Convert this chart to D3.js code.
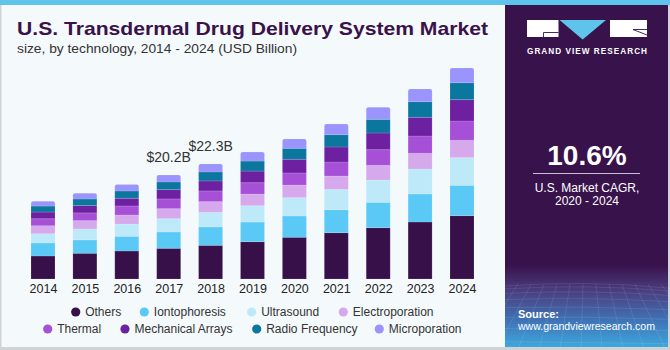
<!DOCTYPE html>
<html><head><meta charset="utf-8">
<script src="https://cdn.jsdelivr.net/npm/d3@7"></script>
<style>body{margin:0;padding:0;background:#fff}svg{display:block}</style>
</head><body>
<svg id="c" width="670" height="350"></svg>
<script>
const years = ["2014","2015","2016","2017","2018","2019","2020","2021","2022","2023","2024"];
const seriesNames = ["Others","Iontophoresis","Ultrasound","Electroporation","Thermal","Mechanical Arrays","Radio Frequency","Microporation"];
const others          = [4.46,4.99,5.43,5.95,6.53,7.24,8.08,8.99,9.96,11.06,12.29];
const iontophoresis   = [2.52,2.59,2.85,3.17,3.56,3.81,4.14,4.46,4.91,5.43,5.88];
const ultrasound      = [1.80,2.13,2.39,2.59,2.85,3.17,3.56,3.94,4.33,4.85,5.37];
const electroporation = [1.55,1.62,1.75,1.94,2.07,2.26,2.46,2.59,2.85,3.04,3.36];
const thermal         = [1.36,1.49,1.75,1.88,2.07,2.20,2.33,2.72,3.04,3.36,3.75];
const mechanical      = [1.30,1.42,1.49,1.81,1.94,2.26,2.65,2.91,3.23,3.62,4.14];
const radioFrequency  = [1.16,1.29,1.42,1.49,1.75,1.94,2.13,2.39,2.65,3.04,3.30];
const microporation   = [0.91,1.10,1.23,1.36,1.55,1.75,1.81,2.07,2.33,2.46,2.85];
const barLabels = [{year:"2017", text:"$20.2B"},{year:"2018", text:"$22.3B"}];
const colors = ["#37104a","#5bc9f6","#bee9f9","#d5a9ec","#a650d7","#6d21a0","#0b779e","#9b94fc"];

const seriesValues = [others,iontophoresis,ultrasound,electroporation,thermal,mechanical,radioFrequency,microporation];
const table = years.map((y,i)=>{const o={year:y}; seriesNames.forEach((n,k)=>o[n]=seriesValues[k][i]); return o;});

const svg = d3.select("#c");
const FONT = "'Liberation Sans', Arial, sans-serif";

// backgrounds
svg.append("rect").attr("x",0).attr("y",0).attr("width",670).attr("height",350).attr("fill","#f4f9fc");
svg.append("rect").attr("x",0).attr("y",0).attr("width",670).attr("height",5).attr("fill","#5ec4ec");
svg.append("rect").attr("x",0).attr("y",5).attr("width",1.5).attr("height",345).attr("fill","#cfd3d6");
svg.append("rect").attr("x",0).attr("y",347).attr("width",670).attr("height",3).attr("fill","#cfd3d6");
svg.append("rect").attr("x",668).attr("y",5).attr("width",2).attr("height",345).attr("fill","#cfd3d6");

// right panel
const defs = svg.append("defs");
const g1 = defs.append("linearGradient").attr("id","pg").attr("x1",0).attr("y1",0).attr("x2",0).attr("y2",1);
g1.append("stop").attr("offset","0").attr("stop-color","#38124b");
g1.append("stop").attr("offset","0.76").attr("stop-color","#38124b");
g1.append("stop").attr("offset","0.83").attr("stop-color","#4a3a7c");
g1.append("stop").attr("offset","0.92").attr("stop-color","#3f72b4");
g1.append("stop").attr("offset","1").attr("stop-color","#3fa6dd");
svg.append("rect").attr("x",505).attr("y",5).attr("width",163).attr("height",342).attr("fill","url(#pg)");
// faint grid in panel bottom
const grid = svg.append("g").attr("stroke","#ffffff").attr("stroke-opacity",0.13).attr("stroke-width",0.7).attr("fill","none");
for(let i=0;i<9;i++){const y=286+i*i*0.85+i*2; grid.append("path").attr("d",`M505,${y} Q586,${y-6+i} 668,${y+2}`);}
for(let i=0;i<14;i++){const x=505+i*13; grid.append("path").attr("d",`M${x},284 L${x+(x-586)*0.6},347`);}

// logo
const lg = svg.append("g");
lg.append("rect").attr("x",527).attr("y",20).attr("width",31.5).attr("height",17).attr("fill","#fff");
lg.append("path").attr("d","M543.5,37 L543.5,32.5 L558.5,32.5").attr("stroke","#38124b").attr("stroke-width",0.9).attr("fill","none");
lg.append("path").attr("d","M559.5,20 L606,20 L582.7,39.5 Z").attr("fill","#5ec4ec");
lg.append("rect").attr("x",610).attr("y",20).attr("width",37).attr("height",17).attr("fill","#fff");
lg.append("path").attr("d","M633,29.5 L647,35").attr("stroke","#38124b").attr("stroke-width",0.9);
lg.append("path").attr("d","M633,29.5 L647,29.5").attr("stroke","#38124b").attr("stroke-width",0.9);
lg.append("text").attr("x",587).attr("y",54).attr("text-anchor","middle").attr("font-family",FONT).attr("font-weight","bold")
  .attr("font-size",8.2).attr("fill","#fff").attr("textLength",120).attr("lengthAdjust","spacing").text("GRAND VIEW RESEARCH");

// CAGR
svg.append("text").attr("x",587).attr("y",165).attr("text-anchor","middle").attr("font-family",FONT).attr("font-weight","bold")
  .attr("font-size",28).attr("fill","#fff").text("10.6%");
svg.append("line").attr("x1",533).attr("x2",640).attr("y1",173.5).attr("y2",173.5).attr("stroke","#c9bfd3").attr("stroke-width",1);
svg.append("text").attr("x",587).attr("y",191.5).attr("text-anchor","middle").attr("font-family",FONT)
  .attr("font-size",12).attr("fill","#fff").text("U.S. Market CAGR,");
svg.append("text").attr("x",587).attr("y",204.5).attr("text-anchor","middle").attr("font-family",FONT)
  .attr("font-size",12).attr("fill","#fff").text("2020 - 2024");
svg.append("text").attr("x",518).attr("y",318).attr("font-family",FONT).attr("font-weight","bold")
  .attr("font-size",11).attr("fill","#fff").text("Source:");
svg.append("text").attr("x",518).attr("y",329.5).attr("font-family",FONT)
  .attr("font-size",11).attr("fill","#fff").attr("textLength",137).attr("lengthAdjust","spacingAndGlyphs").text("www.grandviewresearch.com");

// title
svg.append("text").attr("x",17).attr("y",35).attr("font-family",FONT).attr("font-weight","bold")
  .attr("font-size",18.5).attr("fill","#3a1249").attr("textLength",471).attr("lengthAdjust","spacingAndGlyphs")
  .text("U.S. Transdermal Drug Delivery System Market");
svg.append("text").attr("x",17).attr("y",53).attr("font-family",FONT)
  .attr("font-size",13).attr("fill","#333").attr("textLength",280).attr("lengthAdjust","spacingAndGlyphs")
  .text("size, by technology, 2014 - 2024 (USD Billion)");

// scales
const x = d3.scalePoint().domain(years).range([43,462]);
const y = d3.scaleLinear().domain([0,45]).range([279,279-45*5.155]);
const bw = 24;
const stack = d3.stack().keys(seriesNames)(table);

const bars = svg.append("g");
stack.forEach((s,k)=>{
  bars.append("g").attr("fill",colors[k]).selectAll("path").data(s).join("path")
    .attr("d",d=>{
      const x0=x(d.data.year)-bw/2, x1=x0+bw, yt=y(d[1]), yb=y(d[0]);
      if(k===seriesNames.length-1){
        const r=2;
        return `M${x0},${yb} L${x0},${yt+r} Q${x0},${yt} ${x0+r},${yt} L${x1-r},${yt} Q${x1},${yt} ${x1},${yt+r} L${x1},${yb} Z`;
      }
      return `M${x0},${yb} L${x0},${yt} L${x1},${yt} L${x1},${yb} Z`;
    })
    .attr("stroke","#ffffff").attr("stroke-opacity",0.25).attr("stroke-width",0.5);
});

// x axis
const xa = svg.append("g").attr("transform","translate(0,279)").call(d3.axisBottom(x).tickSize(0).tickPadding(8));
xa.select(".domain").remove();
xa.selectAll("text").attr("font-family",FONT).attr("font-size",12.5).attr("fill","#222").attr("dy","0.71em").attr("y",5);

// bar labels
const totals = {}; table.forEach(r=>totals[r.year]=d3.sum(seriesNames,n=>r[n]));
svg.append("g").selectAll("text").data(barLabels).join("text")
  .attr("x",d=>x(d.year)).attr("y",d=>y(totals[d.year])-13).attr("text-anchor","middle")
  .attr("font-family",FONT).attr("font-size",14).attr("fill","#333").text(d=>d.text);

// legend
const legendPos = [[75.7,312],[144.3,312],[251.7,312],[343.3,312],[47.7,329],[125,329],[256.7,329],[379.3,329]];
const leg = svg.append("g");
seriesNames.forEach((n,i)=>{
  const [cx,cy]=legendPos[i];
  leg.append("circle").attr("cx",cx).attr("cy",cy).attr("r",4.6).attr("fill",colors[i]);
  leg.append("text").attr("x",cx+9.5).attr("y",cy+4.3).attr("font-family",FONT).attr("font-size",12).attr("fill","#333").text(n);
});
</script>
</body></html>
